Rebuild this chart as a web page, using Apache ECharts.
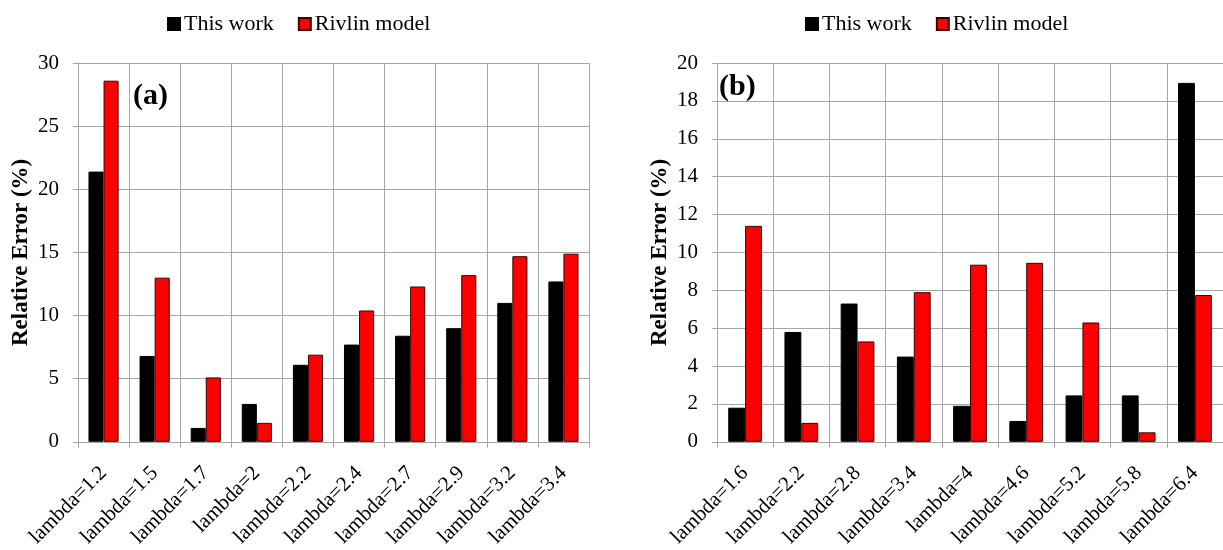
<!DOCTYPE html>
<html>
<head>
<meta charset="utf-8">
<script src="https://cdn.jsdelivr.net/npm/echarts@6/dist/echarts.min.js"></script>
<style>
html,body{margin:0;padding:0;background:#fff;}
#chart{width:1223px;height:550px;}
</style>
</head>
<body>
<div id="chart"></div>
<script>
const catsA = ['lambda=1.2','lambda=1.5','lambda=1.7','lambda=2','lambda=2.2','lambda=2.4','lambda=2.7','lambda=2.9','lambda=3.2','lambda=3.4'];
const thisWorkA = [21.4, 6.8, 1.1, 3.0, 6.1, 7.7, 8.4, 9.0, 11.0, 12.7];
const rivlinA   = [28.6, 13.0, 5.1, 1.5, 6.9, 10.4, 12.3, 13.2, 14.7, 14.9];

const catsB = ['lambda=1.6','lambda=2.2','lambda=2.8','lambda=3.4','lambda=4','lambda=4.6','lambda=5.2','lambda=5.8','lambda=6.4'];
const thisWorkB = [1.8, 5.8, 7.3, 4.5, 1.9, 1.1, 2.45, 2.45, 18.95];
const rivlinB   = [11.4, 1.0, 5.3, 7.9, 9.35, 9.45, 6.3, 0.5, 7.75];

const seriesNames = ['This work', 'Rivlin model'];
const FONT = '"Liberation Serif", "Times New Roman", serif';
const GRID_COLOR = '#a6a6a6';

const chart = echarts.init(document.getElementById('chart'));

function xAxis(idx, cats) {
  return {
    type: 'category', gridIndex: idx, data: cats, boundaryGap: true,
    axisLine: { lineStyle: { color: GRID_COLOR, width: 1 } },
    axisTick: { show: true, length: 6, lineStyle: { color: GRID_COLOR } },
    splitLine: { show: true, lineStyle: { color: GRID_COLOR, width: 1 } },
    axisLabel: { rotate: 45, margin: 28, color: '#000', fontFamily: FONT, fontSize: 21, interval: 0 }
  };
}
function yAxis(idx, max, interval) {
  return {
    type: 'value', gridIndex: idx, min: 0, max: max, interval: interval,
    name: 'Relative Error (%)', nameLocation: 'middle', nameGap: 45,
    nameTextStyle: { fontFamily: FONT, fontSize: 23, fontWeight: 'bold', color: '#000' },
    axisLine: { show: true, lineStyle: { color: GRID_COLOR } },
    axisTick: { show: true, length: 5, lineStyle: { color: GRID_COLOR } },
    splitLine: { show: true, lineStyle: { color: GRID_COLOR, width: 1 } },
    axisLabel: { color: '#000', fontFamily: FONT, fontSize: 21, margin: 19 }
  };
}
function bar(name, idx, data, color, border, gapCat) {
  return {
    name: name, type: 'bar', xAxisIndex: idx, yAxisIndex: idx, data: data,
    barGap: '0%', barCategoryGap: gapCat,
    itemStyle: { color: color, borderColor: border, borderWidth: 1 },
    emphasis: { disabled: true }
  };
}
function legend(left) {
  return {
    data: seriesNames, left: left, top: 8, icon: 'rect', itemWidth: 12, itemHeight: 12, itemGap: 24,
    textStyle: { fontFamily: FONT, fontSize: 22, color: '#000', padding: [0, 0, 0, -1] }
  };
}

chart.setOption({
  animation: false,
  legend: [legend(162), legend(800)],
  grid: [
    { left: 78, top: 63, width: 511, height: 379 },
    { left: 717, top: 63, width: 513, height: 379 }
  ],
  title: [
    { text: '(a)', left: 128, top: 76, textStyle: { fontFamily: FONT, fontSize: 30, fontWeight: 'bold', color: '#000' } },
    { text: '(b)', left: 714, top: 67, textStyle: { fontFamily: FONT, fontSize: 30, fontWeight: 'bold', color: '#000' } }
  ],
  xAxis: [xAxis(0, catsA), xAxis(1, catsB)],
  yAxis: [yAxis(0, 30, 5), yAxis(1, 20, 2)],
  series: [
    bar(seriesNames[0], 0, thisWorkA, '#000000', '#000000', '41%'),
    bar(seriesNames[1], 0, rivlinA, '#ff0000', '#3a0000', '41%'),
    bar(seriesNames[0], 1, thisWorkB, '#000000', '#000000', '40%'),
    bar(seriesNames[1], 1, rivlinB, '#ff0000', '#3a0000', '40%')
  ]
});
</script>
</body>
</html>
